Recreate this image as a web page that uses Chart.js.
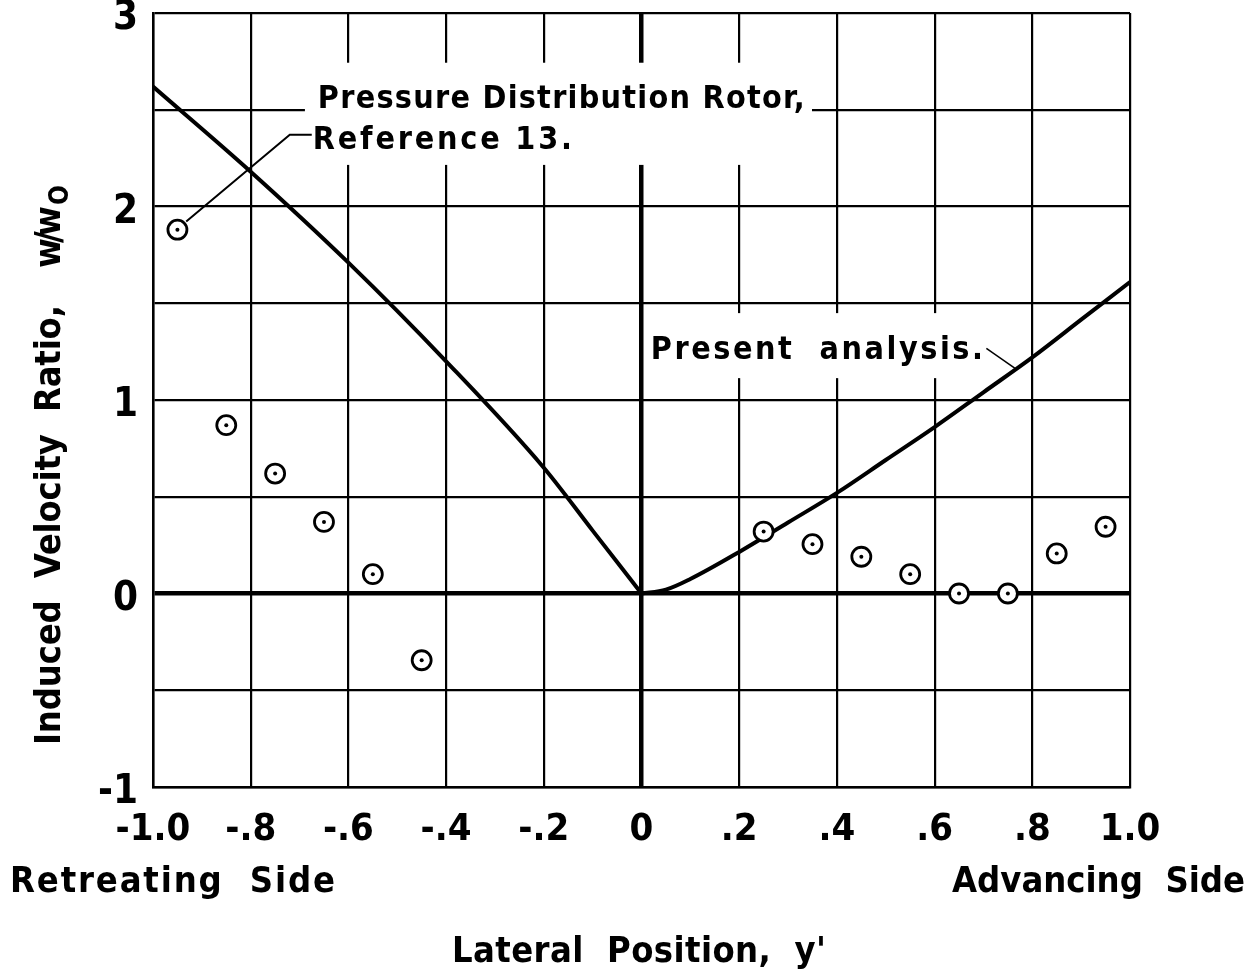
<!DOCTYPE html>
<html>
<head>
<meta charset="utf-8">
<script src="https://cdn.jsdelivr.net/npm/chart.js@4.4.0/dist/chart.umd.min.js"></script>
<style>
    body { margin: 0; background: #fff; }
    #wrap { width: 1260px; height: 977px; }
</style>
</head>
<body>
<div id="wrap"><canvas id="lateralChart"></canvas></div>
<script>
var xTickLabels = ["-1.0", "-.8", "-.6", "-.4", "-.2", "0", ".2", ".4", ".6", ".8", "1.0"];
var yTickValues = [-1, 0, 1, 2, 3];
var yTickLabels = ["-1", "0", "1", "2", "3"];

// test points (circles)
var testPosition = [-0.95, -0.85, -0.75, -0.65, -0.55, -0.45, 0.25, 0.35, 0.45, 0.55, 0.65, 0.75, 0.85, 0.95];
var testRatio = [1.88, 0.87, 0.62, 0.37, 0.10, -0.345, 0.32, 0.255, 0.19, 0.10, 0.0, 0.0, 0.207, 0.345];

// pressure distribution rotor curve
var rotorPosition = [-1.0, -0.8, -0.6, -0.4, -0.2, -0.1, 0];
var rotorRatio = [2.62, 2.18, 1.71, 1.20, 0.65, 0.325, 0];

// present analysis curve
var analysisPosition = [0, 0.05, 0.1, 0.2, 0.3, 0.4, 0.5, 0.6, 0.7, 0.8, 0.9, 1.0];
var analysisRatio = [0, 0.02, 0.075, 0.215, 0.367, 0.52, 0.69, 0.86, 1.04, 1.22, 1.415, 1.61];

function toPoints(xs, ys) {
    return xs.map(function(v, i) { return { x: v, y: ys[i] }; });
}

var textFont = '"DejaVu Sans Condensed", "DejaVu Sans", sans-serif';

function spaced(ctx, text, x, y, width) {
    ctx.letterSpacing = '0px';
    var w = ctx.measureText(text).width;
    var ls = (width - w) / (text.length - 1);
    ctx.letterSpacing = ls + 'px';
    ctx.fillText(text, x, y);
    ctx.letterSpacing = '0px';
}

var notesPlugin = {
    id: 'notes',
    beforeDatasetsDraw: function(chart) {
        var ctx = chart.ctx;
        var sx = chart.scales.x, sy = chart.scales.y;
        function px(v) { return sx.getPixelForValue(v); }
        function py(v) { return sy.getPixelForValue(v); }

        ctx.save();
        // gaps in the grid behind the notes
        ctx.fillStyle = '#fff';
        ctx.fillRect(px(-0.689), py(2.743), px(0.349) - px(-0.689), py(2.215) - py(2.743));
        ctx.fillRect(px(0.009), py(1.449), px(0.713) - px(0.009), py(1.113) - py(1.449));

        ctx.fillStyle = '#000';
        ctx.textAlign = 'left';
        ctx.textBaseline = 'alphabetic';
        ctx.font = 'bold 32px ' + textFont;
        spaced(ctx, 'Pressure Distribution Rotor,', px(-0.6625), py(2.511), px(0.334) - px(-0.6625));
        spaced(ctx, 'Reference 13.', px(-0.6728), py(2.298), px(-0.1425) - px(-0.6728));
        spaced(ctx, 'Present  analysis.', px(0.019), py(1.212), px(0.699) - px(0.019));

        ctx.strokeStyle = '#000';
        ctx.lineWidth = 2;
        ctx.beginPath();
        ctx.moveTo(px(-0.932), py(1.922));
        ctx.lineTo(px(-0.72), py(2.371));
        ctx.lineTo(px(-0.675), py(2.371));
        ctx.stroke();
        ctx.lineWidth = 1.5;
        ctx.beginPath();
        ctx.moveTo(px(0.706), py(1.267));
        ctx.lineTo(px(0.764), py(1.165));
        ctx.stroke();
        ctx.restore();
    },
    afterDraw: function(chart) {
        var ctx = chart.ctx;
        ctx.save();
        ctx.fillStyle = '#000';
        ctx.textAlign = 'left';
        ctx.textBaseline = 'alphabetic';
        ctx.font = 'bold 36px ' + textFont;
        spaced(ctx, 'Retreating  Side', 10, 892, 325);
        spaced(ctx, 'Advancing  Side', 952, 892, 293);
        spaced(ctx, "Lateral  Position,  y'", 452, 962, 374);

        ctx.translate(60, 745);
        ctx.rotate(-Math.PI / 2);
        spaced(ctx, 'Induced  Velocity  Ratio,', 0, 0, 440);
        spaced(ctx, 'w/w', 477, 0, 62);
        ctx.font = 'bold 26px ' + textFont;
        ctx.fillText('O', 540, 8);
        ctx.restore();
    }
};

var chartOptions = {
    type: 'scatter',
    data: {
        datasets: [{
            label: 'Pressure Distribution Rotor',
            data: toPoints(rotorPosition, rotorRatio),
            showLine: true,
            borderColor: '#000',
            borderWidth: 4,
            pointRadius: 0,
            cubicInterpolationMode: 'monotone',
            order: 3
        }, {
            label: 'Present analysis',
            data: toPoints(analysisPosition, analysisRatio),
            showLine: true,
            borderColor: '#000',
            borderWidth: 4,
            pointRadius: 0,
            cubicInterpolationMode: 'monotone',
            order: 2
        }, {
            label: 'Test',
            data: toPoints(testPosition, testRatio),
            pointRadius: 9.5,
            pointBorderWidth: 2.8,
            pointBorderColor: '#000',
            pointBackgroundColor: '#fff',
            order: 1
        }, {
            label: 'Test centre',
            data: toPoints(testPosition, testRatio),
            pointRadius: 2,
            pointBorderWidth: 0,
            pointBackgroundColor: '#000',
            order: 0
        }]
    },
    options: {
        responsive: true,
        maintainAspectRatio: false,
        animation: false,
        layout: { padding: { top: 13, right: 130, left: 0, bottom: 0 } },
        plugins: { legend: { display: false }, tooltip: { enabled: false } },
        scales: {
            x: {
                type: 'linear',
                min: -1,
                max: 1,
                afterFit: function(scale) { scale.height = 190; },
                border: { color: '#000', width: 2.5 },
                grid: {
                    color: '#000',
                    drawTicks: false,
                    lineWidth: function(c) { return Math.abs(c.tick.value) < 1e-6 ? 4.5 : 2.2; }
                },
                ticks: {
                    stepSize: 0.2,
                    autoSkip: false,
                    maxRotation: 0,
                    padding: 20,
                    color: '#000',
                    font: { family: textFont, size: 38, weight: 'bold' },
                    callback: function(value, index) { return xTickLabels[index]; }
                }
            },
            y: {
                type: 'linear',
                min: -1,
                max: 3,
                afterFit: function(scale) {
                    scale.width = 153;
                    scale.paddingTop = 0;
                    scale.paddingBottom = 0;
                },
                border: { color: '#000', width: 2.5 },
                grid: {
                    color: '#000',
                    drawTicks: false,
                    lineWidth: function(c) { return Math.abs(c.tick.value) < 1e-6 ? 4.5 : 2.2; }
                },
                ticks: {
                    stepSize: 0.5,
                    padding: 15,
                    color: '#000',
                    font: { family: textFont, size: 40, weight: 'bold', lineHeight: 0.3 },
                    callback: function(value) {
                        var i = yTickValues.indexOf(value);
                        // empty first line nudges the number a little below its grid line
                        return i < 0 ? '' : ['', yTickLabels[i]];
                    }
                }
            }
        }
    },
    plugins: [notesPlugin]
};

var canvas = document.getElementById('lateralChart');
var chart = new Chart(canvas, chartOptions);
</script>
</body>
</html>
